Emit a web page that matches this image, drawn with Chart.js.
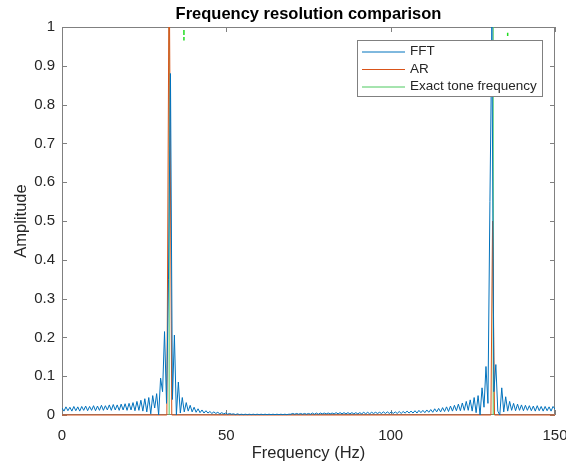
<!DOCTYPE html>
<html>
<head>
<meta charset="utf-8">
<script src="https://cdn.jsdelivr.net/npm/chart.js@4.4.0/dist/chart.umd.min.js"></script>
<style>
	html, body { margin: 0; padding: 0; background: #fff; }
</style>
</head>
<body>
<canvas id="chart" width="566" height="463"></canvas>
<script>
// FFT spectrum: one amplitude per bin, bins are fftStep Hz apart starting at 0 Hz
const fftStep = 0.6;
const fftAmp = [
	0.018, 0.010, 0.021, 0.011, 0.020, 0.010, 0.022, 0.011, 0.021, 0.010,
	0.022, 0.012, 0.023, 0.011, 0.022, 0.012, 0.024, 0.011, 0.023, 0.012,
	0.025, 0.012, 0.024, 0.013, 0.026, 0.012, 0.027, 0.013, 0.026, 0.012,
	0.028, 0.013, 0.029, 0.012, 0.030, 0.013, 0.032, 0.011, 0.035, 0.012,
	0.038, 0.010, 0.042, 0.008, 0.045, 0.003, 0.050, 0.018, 0.055, 0.000,
	0.095, 0.060, 0.215, 0.030, 0.350, 0.880, 0.040, 0.206, 0.000, 0.085,
	0.005, 0.045, 0.008, 0.032, 0.010, 0.025, 0.008, 0.020, 0.007, 0.016,
	0.006, 0.013, 0.005, 0.011, 0.005, 0.009, 0.004, 0.008, 0.004, 0.007,
	0.003, 0.006, 0.003, 0.005, 0.002, 0.004, 0.002, 0.003, 0.001, 0.003,
	0.001, 0.002, 0.001, 0.002, 0.001, 0.002, 0.001, 0.002, 0.001, 0.002,
	0.001, 0.002, 0.001, 0.002, 0.001, 0.002, 0.001, 0.002, 0.001, 0.002,
	0.001, 0.002, 0.001, 0.002, 0.001, 0.002, 0.002, 0.004, 0.002, 0.004,
	0.002, 0.004, 0.002, 0.004, 0.002, 0.004, 0.002, 0.005, 0.002, 0.005,
	0.002, 0.005, 0.003, 0.005, 0.003, 0.005, 0.003, 0.005, 0.003, 0.006,
	0.003, 0.006, 0.003, 0.006, 0.003, 0.006, 0.003, 0.006, 0.003, 0.006,
	0.003, 0.006, 0.003, 0.007, 0.003, 0.007, 0.003, 0.007, 0.004, 0.007,
	0.004, 0.007, 0.004, 0.008, 0.004, 0.008, 0.004, 0.008, 0.004, 0.008,
	0.004, 0.009, 0.004, 0.009, 0.005, 0.010, 0.005, 0.010, 0.005, 0.011,
	0.005, 0.012, 0.006, 0.012, 0.006, 0.013, 0.007, 0.014, 0.007, 0.016,
	0.008, 0.017, 0.008, 0.019, 0.009, 0.021, 0.009, 0.023, 0.010, 0.025,
	0.011, 0.028, 0.011, 0.031, 0.012, 0.035, 0.012, 0.039, 0.010, 0.045,
	0.006, 0.050, 0.000, 0.070, 0.020, 0.125, 0.030, 0.550, 1.000, 0.060,
	0.130, 0.010, 0.000, 0.070, 0.008, 0.047, 0.010, 0.035, 0.012, 0.030,
	0.011, 0.028, 0.012, 0.026, 0.011, 0.025, 0.012, 0.024, 0.011, 0.023,
	0.010, 0.024, 0.011, 0.022, 0.010, 0.022, 0.011, 0.021, 0.010, 0.022,
	0.015
];

// AR spectrum: sharp peaks, flat zero elsewhere
const arFreq = [0, 31.9, 32.6, 33.4, 130.5, 131.0, 131.6, 150];
const arAmp = [0, 0, 1.2, 0, 0, 0.5, 0, 0];

// exact tone frequencies (Hz)
const toneFreqs = [32.6, 131.2];

// small green marks near the top
const markFreqs = [37.1, 135.6];
const markTop = [0.992, 0.985];
const markBottom = [0.965, 0.977];

const xTicks = [0, 50, 100, 150];
const yTicks = [0, 0.1, 0.2, 0.3, 0.4, 0.5, 0.6, 0.7, 0.8, 0.9, 1];

const seriesNames = ['FFT', 'AR', 'Exact tone frequency'];
const seriesColors = ['#0072BD', '#D95319', '#4cc95e'];

const FONT = "'Liberation Sans', Arial, Helvetica, sans-serif";
const TEXT = '#262626';
const AXIS = '#808080';

// box round the plot with inward ticks, like matlab
const axisBox = {
	id: 'axisBox',
	beforeDatasetsDraw(chart) {
		const { ctx, chartArea: a, scales } = chart;
		const len = 5;
		ctx.save();
		ctx.strokeStyle = AXIS;
		ctx.lineWidth = 1;
		ctx.beginPath();
		ctx.rect(a.left + 0.5, a.top + 0.5, a.right - a.left - 1, a.bottom - a.top - 1);
		xTicks.forEach(v => {
			const px = Math.round(scales.x.getPixelForValue(v)) + 0.5;
			ctx.moveTo(px, a.bottom); ctx.lineTo(px, a.bottom - len);
			ctx.moveTo(px, a.top); ctx.lineTo(px, a.top + len);
		});
		yTicks.forEach(v => {
			const py = Math.round(scales.y.getPixelForValue(v)) + 0.5;
			ctx.moveTo(a.left, py); ctx.lineTo(a.left + len, py);
			ctx.moveTo(a.right, py); ctx.lineTo(a.right - len, py);
		});
		ctx.stroke();
		ctx.restore();
	}
};

// legend box in the top right corner of the plot
const legendBox = {
	id: 'legendBox',
	afterDatasetsDraw(chart) {
		const { ctx, chartArea: a } = chart;
		const w = 185, h = 56, rowH = 17.5;
		const x0 = a.right - 13 - w, y0 = a.top + 13;
		ctx.save();
		ctx.fillStyle = '#fff';
		ctx.fillRect(x0, y0, w, h);
		ctx.strokeStyle = AXIS;
		ctx.lineWidth = 1;
		ctx.strokeRect(x0 + 0.5, y0 + 0.5, w, h);
		ctx.font = '13.5px ' + FONT;
		ctx.textBaseline = 'middle';
		ctx.fillStyle = TEXT;
		seriesNames.forEach((name, i) => {
			const cy = y0 + 11.5 + i * rowH;
			ctx.strokeStyle = seriesColors[i];
			ctx.beginPath();
			ctx.moveTo(x0 + 5, cy + 0.5);
			ctx.lineTo(x0 + 48, cy + 0.5);
			ctx.stroke();
			ctx.fillText(name, x0 + 53, cy);
		});
		ctx.restore();
	}
};

const lineStyle = { pointRadius: 0, borderWidth: 1, tension: 0, clip: { left: 0, top: 0, right: 0, bottom: 2 } };

new Chart(document.getElementById('chart'), {
	type: 'line',
	data: {
		datasets: [
			{
				...lineStyle,
				label: seriesNames[0],
				borderColor: seriesColors[0],
				data: fftAmp.map((a, i) => ({ x: i * fftStep, y: a }))
			},
			{
				...lineStyle,
				label: seriesNames[1],
				borderColor: seriesColors[1],
				data: arFreq.map((f, i) => ({ x: f, y: arAmp[i] }))
			},
			{
				...lineStyle,
				label: seriesNames[2],
				borderColor: seriesColors[2],
				data: toneFreqs.flatMap(f => [{ x: f, y: 0 }, { x: f, y: 1 }, { x: f, y: null }])
			},
			{
				...lineStyle,
				label: 'marks',
				borderColor: '#22dd22',
				borderWidth: 1.5,
				borderDash: [5, 2],
				data: markFreqs.flatMap((f, i) => [{ x: f, y: markTop[i] }, { x: f, y: markBottom[i] }, { x: f, y: null }])
			}
		]
	},
	options: {
		responsive: false,
		animation: false,
		spanGaps: false,
		layout: { padding: { left: 0, right: 11, top: 0, bottom: 0 } },
		plugins: {
			legend: { display: false },
			tooltip: { enabled: false },
			title: {
				display: true,
				text: 'Frequency resolution comparison',
				fullSize: false,
				color: '#000',
				font: { family: FONT, size: 16.5, weight: 'bold' },
				padding: { top: 5, bottom: 2.2 }
			}
		},
		scales: {
			x: {
				type: 'linear', min: 0, max: 150,
				afterBuildTicks: s => { s.ticks = xTicks.map(v => ({ value: v })); },
				afterFit: s => { s.height = 48; s.paddingLeft = 0; s.paddingRight = 0; },
				grid: { display: false, drawTicks: false },
				border: { display: false },
				ticks: { color: TEXT, font: { family: FONT, size: 15 }, padding: 12, maxRotation: 0, autoSkip: false, callback: v => String(v) },
				title: { display: true, text: 'Frequency (Hz)', color: TEXT, font: { family: FONT, size: 16.5 }, padding: { top: 0, bottom: 0 } }
			},
			y: {
				type: 'linear', min: 0, max: 1,
				afterBuildTicks: s => { s.ticks = yTicks.map(v => ({ value: v })); },
				afterFit: s => { s.width = 62; s.paddingTop = 0; s.paddingBottom = 0; },
				grid: { display: false, drawTicks: false },
				border: { display: false },
				ticks: { color: TEXT, font: { family: FONT, size: 15 }, padding: 7, autoSkip: false, callback: v => String(v) },
				title: { display: true, text: 'Amplitude', color: TEXT, font: { family: FONT, size: 16.5 }, padding: { top: 12, bottom: 0 } }
			}
		}
	},
	plugins: [axisBox, legendBox]
});
</script>
</body>
</html>
